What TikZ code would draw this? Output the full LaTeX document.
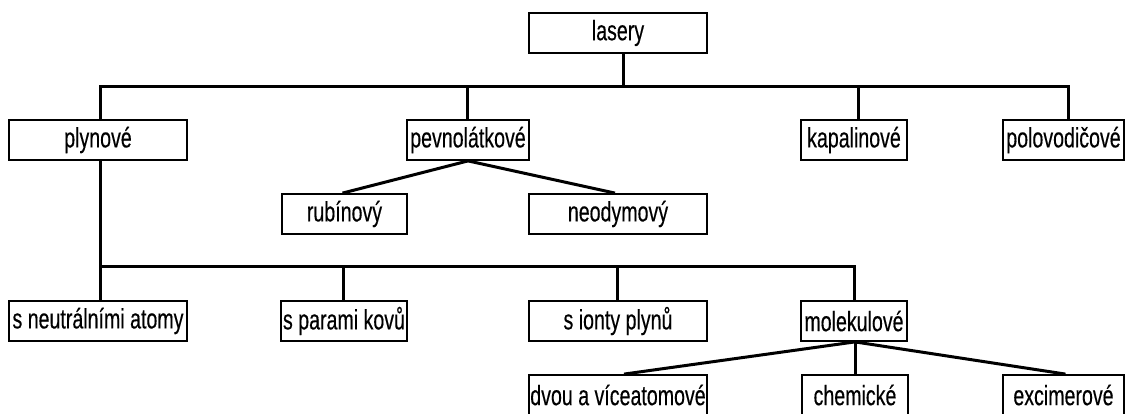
\documentclass[tikz,border=0pt]{standalone}
\usepackage{fontspec}
\setmainfont{Liberation Sans}[FakeStretch=0.70,FakeBold=0.3]
\begin{document}
\begin{tikzpicture}[x=1pt,y=-1pt,
  box/.style={draw=black,line width=1.8pt,fill=white,inner sep=0pt,
    minimum height=40pt,font=\fontsize{28}{30}\selectfont},
  conn/.style={draw=black,line width=3pt,line join=miter}]
\useasboundingbox (0,0) rectangle (1128,414);
% nodes
\node[box,minimum width=178pt] (las) at (618,33) {lasery};
\node[box,minimum width=178pt] (ply) at (98,140) {plynové};
\node[box,minimum width=122pt] (pev) at (468,140) {pevnolátkové};
\node[box,minimum width=106pt] (kap) at (854,140) {kapalinové};
\node[box,minimum width=121pt] (pol) at (1063.5,140) {polovodičové};
\node[box,minimum width=125pt] (rub) at (344.5,214) {rubínový};
\node[box,minimum width=178pt] (neo) at (618,214) {neodymový};
\node[box,minimum width=178pt] (neu) at (98,321) {s neutrálními atomy};
\node[box,minimum width=126pt] (par) at (344,321) {s parami kovů};
\node[box,minimum width=178pt] (ion) at (618,321) {s ionty plynů};
\node[box,minimum width=106pt] (mol) at (854,321) {molekulové};
\node[box,minimum width=178pt] (dvo) at (618,395) {dvou a víceatomové};
\node[box,minimum width=106pt] (che) at (855,395) {chemické};
\node[box,minimum width=121pt] (exc) at (1063.5,395) {excimerové};
% bus coordinates
\coordinate (b1) at (623,87);
\coordinate (b1L) at (100,87);
\coordinate (b1R) at (1068,87);
\coordinate (s2) at (467,87);
\coordinate (s3) at (858,87);
\coordinate (b2L) at (100,267);
\coordinate (b2R) at (854,267);
\coordinate (s4) at (343,267);
\coordinate (s5) at (617,267);
% level 1
\draw[conn] (las.south -| b1) -- (b1);
\draw[conn] (ply.north -| b1L) -- (b1L) -- (b1R) -- (pol.north -| b1R);
\draw[conn] (s2) -- (pev.north -| s2);
\draw[conn] (s3) -- (kap.north -| s3);
% solid state
\draw[conn] (pev.south) -- ([xshift=-2pt]rub.north);
\draw[conn] (pev.south) -- ([xshift=-3pt]neo.north);
% gas
\draw[conn] (ply.south -| b2L) -- (b2L) -- (b2R) -- (mol.north -| b2R);
\draw[conn] (b2L) -- (neu.north -| b2L);
\draw[conn] (s4) -- (par.north -| s4);
\draw[conn] (s5) -- (ion.north -| s5);
% molecular
\draw[conn] ([xshift=1pt]mol.south) -- ([xshift=6pt]dvo.north);
\draw[conn] ([xshift=1pt]mol.south) -- (che.north);
\draw[conn] ([xshift=1pt]mol.south) -- ([xshift=2pt]exc.north);
\end{tikzpicture}
\end{document}
